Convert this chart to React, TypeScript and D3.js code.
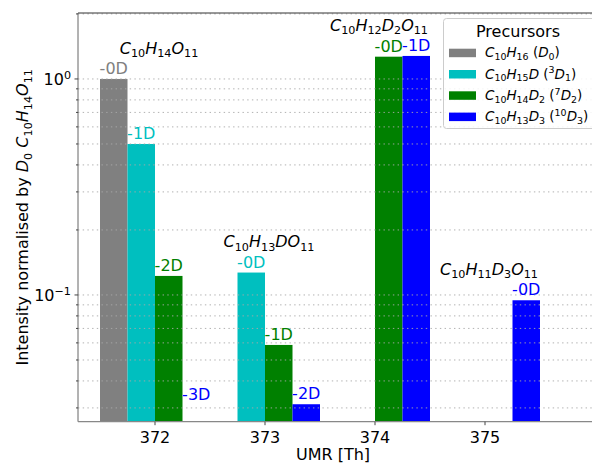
import React from "react";
import * as d3 from "d3";

// UMR groups and the compound formed in each
const umr = [372, 373, 374, 375];
const compounds = [
  "$C_{10}H_{14}O_{11}$",
  "$C_{10}H_{13}DO_{11}$",
  "$C_{10}H_{12}D_2O_{11}$",
  "$C_{10}H_{11}D_3O_{11}$",
];

// precursors (legend) and their colours
const precursors = [
  "$C_{10}H_{16}$ ($D_0$)",
  "$C_{10}H_{15}D$ ($^3D_1$)",
  "$C_{10}H_{14}D_2$ ($^7D_2$)",
  "$C_{10}H_{13}D_3$ ($^{10}D_3$)",
];
const colors = ["#808080", "#00bfbf", "#008000", "#0000ff"];

// normalised intensity per precursor, one value per UMR (null = none)
const d0Values = [1.0, null, null, null];
const d1Values = [0.5, 0.127, null, null];
const d2Values = [0.1225, 0.0587, 1.268, null];
const d3Values = [0.02, 0.0312, 1.278, 0.0945];
const seriesValues = [d0Values, d1Values, d2Values, d3Values];

const majorTicks = [0.1, 1];
const minorTicks = [0.03, 0.04, 0.05, 0.06, 0.07, 0.08, 0.09, 0.2, 0.3, 0.4, 0.5, 0.6, 0.7, 0.8, 0.9, 2];
const yTickLabels = ["$10^{\u22121}$", "$10^{0}$"];

const W = 592;
const H = 464;
const FONT = "DejaVu Sans, sans-serif";

type Seg = { text: string; italic: boolean; level: number };

// tiny mathtext-ish parser: $..$ toggles math, _ / ^ make sub/superscripts
function parseMath(s: string): Seg[] {
  const out: Seg[] = [];
  let inMath = false;
  const push = (text: string, italic: boolean, level: number) => {
    const last = out[out.length - 1];
    if (last && last.italic === italic && last.level === level) last.text += text;
    else out.push({ text, italic, level });
  };
  for (let i = 0; i < s.length; i++) {
    const ch = s[i];
    if (ch === "$") {
      inMath = !inMath;
      continue;
    }
    if (inMath && (ch === "_" || ch === "^")) {
      const level = ch === "_" ? -1 : 1;
      let grp = "";
      if (s[i + 1] === "{") {
        const end = s.indexOf("}", i + 2);
        grp = s.slice(i + 2, end);
        i = end;
      } else {
        grp = s[i + 1];
        i += 1;
      }
      for (const c of grp) push(c, /[A-Za-z]/.test(c), level);
      continue;
    }
    push(ch, inMath && /[A-Za-z]/.test(ch), 0);
  }
  return out;
}

function MathText(props: {
  s: string;
  x?: number;
  y?: number;
  fs: number;
  anchor?: string;
  fill?: string;
  transform?: string;
}) {
  const { s, x = 0, y = 0, fs, anchor = "start", fill = "#000", transform } = props;
  const segs = parseMath(s);
  let cur = 0;
  return (
    <text x={x} y={y} fontSize={fs} textAnchor={anchor} fill={fill} transform={transform} fontFamily={FONT}>
      {segs.map((g, i) => {
        const off = g.level === 1 ? -0.38 * fs : g.level === -1 ? 0.22 * fs : 0;
        const dy = off - cur;
        cur = off;
        return (
          <tspan key={i} dy={dy} fontSize={g.level ? fs * 0.7 : fs} fontStyle={g.italic ? "italic" : "normal"}>
            {g.text}
          </tspan>
        );
      })}
    </text>
  );
}

export default function App() {
  const left = 78;
  const top = 13;
  const bottom = 421.7;

  const x = d3.scaleLinear().domain([371.3, 376.3]).range([left, 628]);
  const y = d3.scaleLog().domain([0.0259, 2.02]).range([bottom, top]);
  const barW = 0.25;
  const labelFloor = 0.031;

  const bars: any[] = [];
  seriesValues.forEach((vals, p) => {
    vals.forEach((v, c) => {
      if (v == null) return;
      bars.push({ p, c, v, x0: umr[c] - 0.5 + p * barW, label: `-${p - c}D` });
    });
  });

  const grid = [...majorTicks, ...minorTicks];

  return (
    <svg width={W} height={H} style={{ position: "absolute", left: 0, top: 0, background: "#fff" }}>
      <defs>
        <clipPath id="plot">
          <rect x={left} y={top} width={W - left} height={bottom - top} />
        </clipPath>
      </defs>

      {/* bars */}
      <g clipPath="url(#plot)">
        {bars.map((b, i) => {
          const yt = y(b.v);
          return (
            <rect
              key={i}
              x={x(b.x0)}
              y={Math.min(yt, bottom)}
              width={x(b.x0 + barW) - x(b.x0)}
              height={Math.max(0, bottom - yt)}
              fill={colors[b.p]}
            />
          );
        })}
      </g>

      {/* dotted grid over bars */}
      <g>
        {grid.map((t) => (
          <line
            key={t}
            x1={left}
            x2={W}
            y1={y(t)}
            y2={y(t)}
            stroke="#a8a8a8"
            strokeOpacity={0.9}
            strokeWidth={1}
            strokeDasharray="1.4 3.3"
          />
        ))}
      </g>

      {/* bar labels */}
      {bars.map((b, i) => (
        <text
          key={"l" + i}
          x={x(b.x0 + barW / 2)}
          y={y(Math.max(b.v, labelFloor)) - 5}
          textAnchor="middle"
          fontSize={16}
          fontFamily={FONT}
          fill={colors[b.p]}
        >
          {b.label}
        </text>
      ))}

      {/* compound labels above each group */}
      {umr.map((u, c) => {
        const mx = d3.max(seriesValues, (vals) => vals[c] ?? 0) as number;
        return <MathText key={u} s={compounds[c]} x={x(u) + 4} y={y(mx * 1.31)} fs={16} anchor="middle" />;
      })}

      {/* spines */}
      <line x1={left} x2={W} y1={top} y2={top} stroke="#333" strokeWidth={1} />
      <line x1={left} x2={left} y1={top} y2={bottom} stroke="#666" strokeWidth={1} />
      <line x1={left} x2={W} y1={bottom} y2={bottom} stroke="#888" strokeWidth={1.2} />

      {/* y ticks */}
      {majorTicks.map((t, i) => (
        <g key={t}>
          <line x1={left - 3.5} x2={left} y1={y(t)} y2={y(t)} stroke="#444" />
          <MathText s={yTickLabels[i]} x={left - 7} y={y(t) + 6} fs={16} anchor="end" />
        </g>
      ))}
      {minorTicks.map((t) => (
        <line key={t} x1={left - 2} x2={left} y1={y(t)} y2={y(t)} stroke="#444" />
      ))}

      {/* x ticks */}
      {umr.map((u) => (
        <g key={u}>
          <line x1={x(u)} x2={x(u)} y1={bottom} y2={bottom + 3.5} stroke="#444" />
          <text x={x(u)} y={443} textAnchor="middle" fontSize={16} fontFamily={FONT}>
            {u}
          </text>
        </g>
      ))}

      {/* axis labels */}
      <text x={333} y={460} textAnchor="middle" fontSize={16} fontFamily={FONT}>
        UMR [Th]
      </text>
      <MathText
        s="Intensity normalised by $D_0$ $C_{10}H_{14}O_{11}$"
        fs={16}
        anchor="middle"
        transform={`translate(28,${(top + bottom) / 2}) rotate(-90)`}
      />

      {/* legend */}
      <g>
        <rect x={443.5} y={18.5} width={200} height={110} rx={3} fill="#fff" fillOpacity={0.85} stroke="#cccccc" />
        <text x={518} y={37} textAnchor="middle" fontSize={16} fontFamily={FONT}>
          Precursors
        </text>
        {precursors.map((p, i) => {
          const cy = 52.7 + i * 21.3;
          return (
            <g key={p}>
              <rect x={449} y={cy - 4} width={27} height={8.5} fill={colors[i]} />
              <MathText s={p} x={485} y={cy + 4.5} fs={13.5} />
            </g>
          );
        })}
      </g>
    </svg>
  );
}
